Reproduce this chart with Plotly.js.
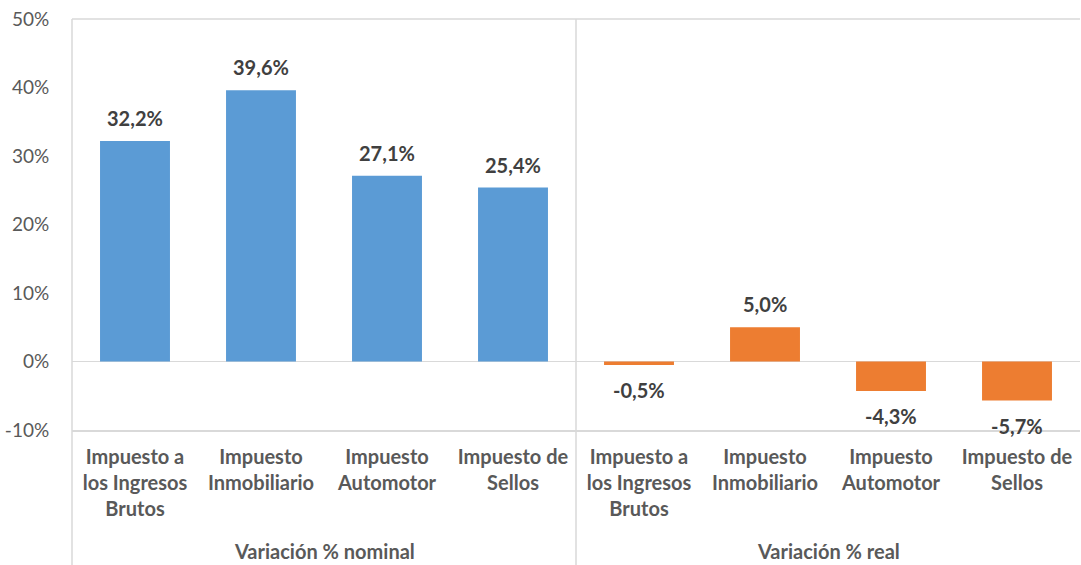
<!DOCTYPE html>
<html>
<head>
<meta charset="utf-8">
<script src="https://cdn.plot.ly/plotly-3.0.1.min.js"></script>
<style>html,body{margin:0;padding:0;background:#fff;}</style>
</head>
<body>
<div id="chart" style="width:1081px;height:565px;"></div>
<script>
const categories = ["Impuesto a<br>los Ingresos<br>Brutos", "Impuesto<br>Inmobiliario", "Impuesto<br>Automotor", "Impuesto de<br>Sellos"];
const groups = ["Variación % nominal", "Variación % real"];
const nominal = [32.2, 39.6, 27.1, 25.4];
const real = [-0.5, 5.0, -4.3, -5.7];
const yTicks = [-10, 0, 10, 20, 30, 40, 50];
const yTickText = ["-10%", "0%", "10%", "20%", "30%", "40%", "50%"];

const xNom = nominal.map((v, i) => i);
const xReal = real.map((v, i) => i + nominal.length);
const allX = xNom.concat(xReal);
const allY = nominal.concat(real);
const allCats = categories.concat(categories);

const FONT = "Lato, 'Open Sans', sans-serif";
const GRID = "#D9D9D9";

const traces = [
  {type: "bar", x: xNom, y: nominal, width: 0.555, marker: {color: "#5B9BD5"}, hoverinfo: "none", name: groups[0]},
  {type: "bar", x: xReal, y: real, width: 0.555, marker: {color: "#ED7D31"}, hoverinfo: "none", name: groups[1]}
];

const fmt = v => v.toFixed(1).replace(".", ",") + "%";
const annotations = allY.map((v, i) => ({
  x: allX[i], y: v, xref: "x", yref: "y",
  text: "<b>" + fmt(v) + "</b>", showarrow: false,
  yanchor: "middle", yshift: v >= 0 ? 23 : -25,
  font: {family: FONT, size: 20, color: "#404040"}
}));
groups.forEach((g, k) => {
  annotations.push({
    x: (categories.length - 1) / 2 + k * categories.length, xref: "x",
    y: -0.2944, yref: "paper", yanchor: "middle",
    text: "<b>" + g + "</b>", showarrow: false,
    font: {family: FONT, size: 20, color: "#595959"}
  });
});

const bottomPaper = -0.3285;
const shapes = [
  {type: "line", xref: "paper", yref: "paper", x0: 0, x1: 1, y0: 1, y1: 1, line: {color: GRID, width: 1.5}},
  {type: "line", xref: "paper", yref: "paper", x0: 0, x1: 0, y0: bottomPaper, y1: 1, line: {color: GRID, width: 1.5}},
  {type: "line", xref: "x", yref: "paper", x0: nominal.length - 0.5, x1: nominal.length - 0.5, y0: bottomPaper, y1: 1, line: {color: GRID, width: 1.5}}
];

const layout = {
  width: 1081, height: 565,
  margin: {l: 72, r: 1, t: 19, b: 135},
  paper_bgcolor: "#fff", plot_bgcolor: "#fff",
  showlegend: false,
  barmode: "overlay",
  separators: ",.",
  font: {family: FONT, color: "#595959"},
  xaxis: {
    range: [-0.5, allX.length - 0.5],
    tickmode: "array", tickvals: allX, ticktext: allCats.map(c => "<b>" + c + "</b>"),
    tickangle: 0,
    showgrid: false, zeroline: false,
    showline: true, linecolor: GRID, linewidth: 1.5,
    ticks: "outside", ticklen: 8, tickcolor: "rgba(0,0,0,0)",
    tickfont: {family: FONT, size: 20, color: "#595959"},
    fixedrange: true
  },
  yaxis: {
    range: [-10, 50],
    tickmode: "array", tickvals: yTicks, ticktext: yTickText,
    showgrid: false,
    zeroline: true, zerolinecolor: GRID, zerolinewidth: 1.5,
    showline: false,
    ticks: "outside", ticklen: 18, tickcolor: "rgba(0,0,0,0)",
    tickfont: {family: FONT, size: 19, color: "#595959"},
    fixedrange: true
  },
  annotations: annotations,
  shapes: shapes
};

Plotly.newPlot("chart", traces, layout, {displayModeBar: false, staticPlot: true});
</script>
</body>
</html>
